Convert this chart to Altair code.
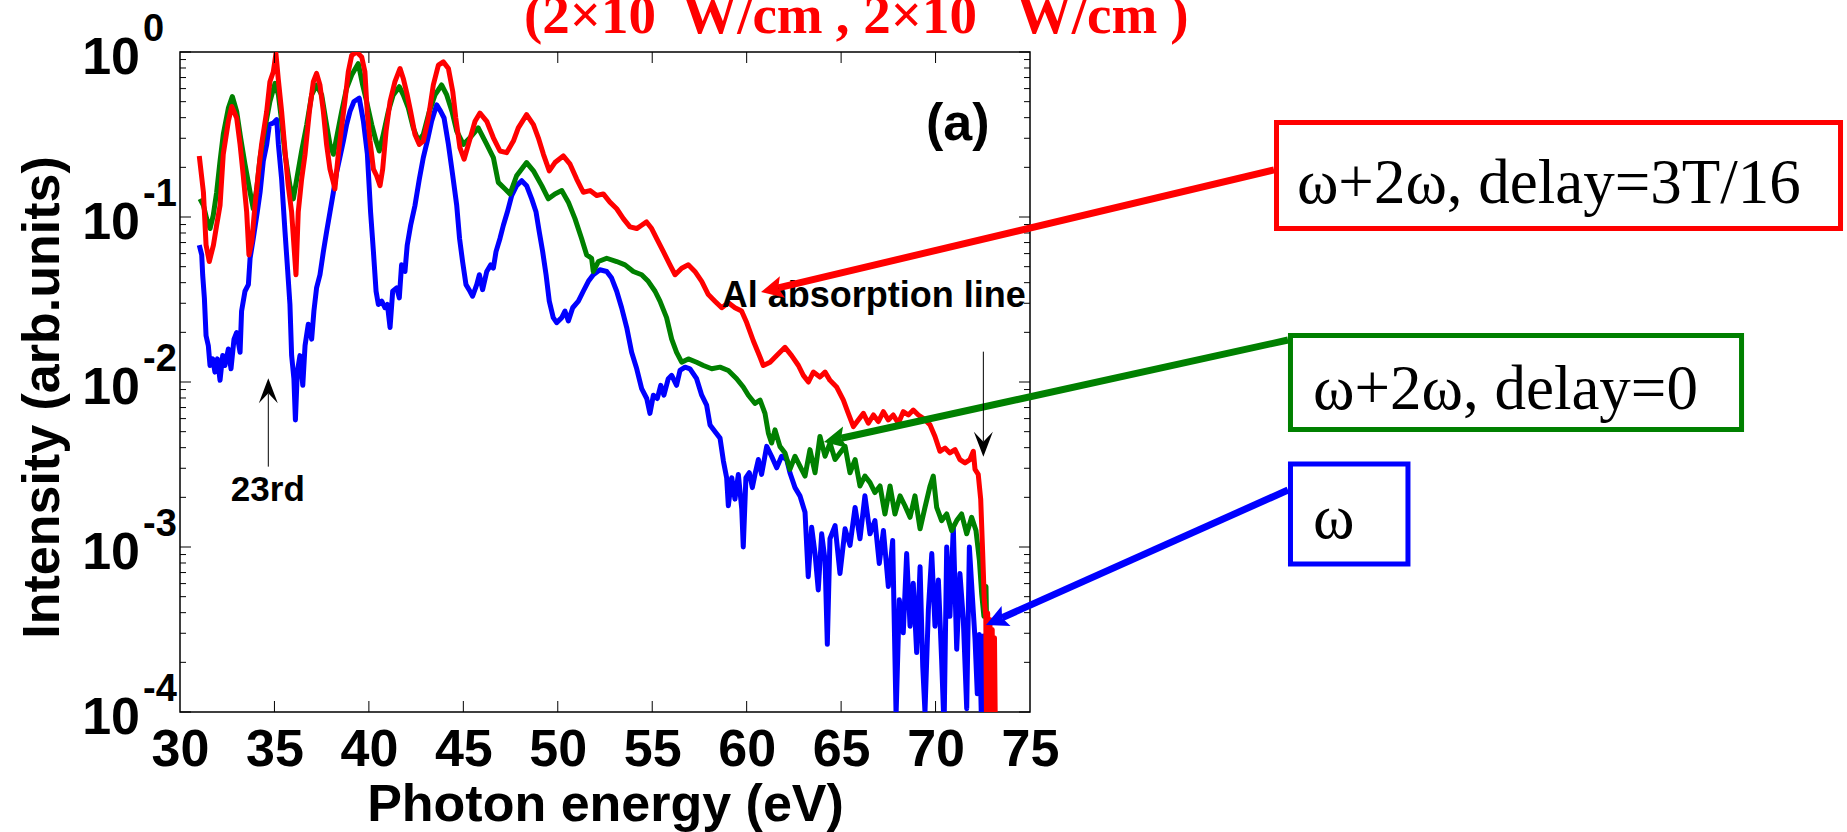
import math
import altair as alt
import numpy as np
import pandas as pd

# ---------------------------------------------------------------------------
# Harmonic spectra: (photon energy in eV, log10 of intensity in arb. units)
# ---------------------------------------------------------------------------
red_pts = [
    (31.02, -0.63), (31.24, -0.85), (31.38, -1.17), (31.55, -1.27), (31.77, -1.17),
    (31.94, -1.05), (32.12, -0.93), (32.29, -0.62), (32.56, -0.42), (32.74, -0.33),
    (33.00, -0.40), (33.18, -0.56), (33.35, -0.75), (33.53, -0.97), (33.65, -1.23),
    (33.80, -1.15), (33.97, -0.93), (34.15, -0.73), (34.32, -0.56), (34.59, -0.36),
    (34.76, -0.18), (34.94, -0.12), (35.08, -0.01), (35.20, -0.16), (35.38, -0.36),
    (35.56, -0.60), (35.73, -0.81), (35.91, -0.97), (36.03, -1.17), (36.14, -1.35),
    (36.26, -0.97), (36.44, -0.77), (36.62, -0.62), (36.85, -0.36), (37.06, -0.18),
    (37.23, -0.13), (37.41, -0.20), (37.59, -0.36), (37.76, -0.56), (37.94, -0.71),
    (38.12, -0.79), (38.20, -0.83), (38.38, -0.62), (38.55, -0.46), (38.73, -0.30),
    (38.91, -0.12), (39.09, -0.02), (39.35, 0.00), (39.62, -0.03), (39.79, -0.12),
    (39.91, -0.36), (40.06, -0.54), (40.24, -0.71), (40.41, -0.75), (40.59, -0.81),
    (40.73, -0.71), (40.91, -0.48), (41.12, -0.30), (41.38, -0.18), (41.65, -0.10),
    (41.82, -0.16), (42.03, -0.26), (42.21, -0.36), (42.44, -0.50), (42.67, -0.56),
    (42.88, -0.54), (43.15, -0.40), (43.41, -0.20), (43.68, -0.08), (43.94, -0.06),
    (44.21, -0.10), (44.44, -0.24), (44.60, -0.40), (44.82, -0.58), (45.04, -0.65),
    (45.27, -0.56), (45.62, -0.42), (45.88, -0.37), (46.24, -0.42), (46.59, -0.52),
    (46.94, -0.60), (47.29, -0.61), (47.65, -0.54), (47.91, -0.46), (48.35, -0.38),
    (48.71, -0.44), (48.97, -0.52), (49.24, -0.62), (49.55, -0.72), (49.85, -0.67),
    (50.29, -0.63), (50.65, -0.68), (51.00, -0.77), (51.35, -0.85), (51.71, -0.84),
    (52.06, -0.87), (52.41, -0.86), (52.76, -0.91), (53.12, -0.95), (53.47, -1.01),
    (53.82, -1.06), (54.18, -1.07), (54.44, -1.05), (54.70, -1.03), (54.97, -1.07),
    (55.23, -1.13), (55.59, -1.21), (55.94, -1.29), (56.21, -1.35), (56.56, -1.31),
    (56.91, -1.29), (57.26, -1.33), (57.62, -1.39), (57.97, -1.47), (58.32, -1.51),
    (58.68, -1.55), (59.03, -1.52), (59.38, -1.55), (59.73, -1.57), (60.00, -1.64),
    (60.35, -1.75), (60.71, -1.85), (60.88, -1.90), (61.24, -1.88), (61.59, -1.84),
    (62.03, -1.79), (62.38, -1.84), (62.74, -1.90), (63.00, -1.96), (63.27, -2.00),
    (63.53, -1.94), (63.88, -1.97), (64.15, -1.94), (64.41, -1.99), (64.76, -2.03),
    (65.12, -2.11), (65.38, -2.19), (65.65, -2.27), (65.91, -2.23), (66.18, -2.19),
    (66.44, -2.25), (66.71, -2.20), (66.97, -2.24), (67.24, -2.18), (67.50, -2.23),
    (67.76, -2.20), (68.03, -2.25), (68.29, -2.18), (68.56, -2.20), (68.82, -2.17),
    (69.09, -2.20), (69.35, -2.22), (69.71, -2.26), (69.97, -2.33), (70.23, -2.42),
    (70.50, -2.40), (70.76, -2.43), (71.03, -2.41), (71.29, -2.47), (71.56, -2.49),
    (71.82, -2.47), (72.00, -2.42), (72.09, -2.53), (72.26, -2.56), (72.39, -2.71),
    (72.49, -3.02), (72.58, -3.32), (72.66, -3.42), (72.71, -4.30), (72.76, -3.40),
    (72.82, -4.30), (72.88, -3.44), (72.94, -4.30), (73.00, -3.50), (73.06, -4.30),
    (73.12, -3.55), (73.18, -4.30),
]

green_pts = [
    (31.06, -0.89), (31.24, -0.93), (31.41, -1.01), (31.59, -1.07), (31.76, -0.99),
    (31.94, -0.85), (32.12, -0.66), (32.29, -0.50), (32.56, -0.34), (32.77, -0.27),
    (33.00, -0.36), (33.21, -0.52), (33.44, -0.68), (33.71, -0.85), (33.88, -0.95),
    (34.06, -0.83), (34.24, -0.64), (34.50, -0.46), (34.76, -0.30), (35.03, -0.19),
    (35.21, -0.26), (35.38, -0.42), (35.56, -0.62), (35.82, -0.81), (36.00, -0.89),
    (36.18, -0.77), (36.44, -0.60), (36.71, -0.44), (36.97, -0.26), (37.23, -0.20),
    (37.50, -0.26), (37.73, -0.42), (37.94, -0.56), (38.12, -0.62), (38.29, -0.52),
    (38.56, -0.36), (38.82, -0.22), (39.09, -0.14), (39.44, -0.07), (39.67, -0.20),
    (39.88, -0.30), (40.15, -0.44), (40.38, -0.54), (40.55, -0.60), (40.76, -0.50),
    (41.03, -0.36), (41.29, -0.26), (41.61, -0.21), (41.82, -0.26), (42.09, -0.34),
    (42.35, -0.46), (42.62, -0.54), (42.88, -0.50), (43.20, -0.36), (43.50, -0.26),
    (43.85, -0.20), (44.12, -0.26), (44.40, -0.36), (44.65, -0.48), (45.00, -0.56),
    (45.35, -0.52), (45.79, -0.46), (46.24, -0.56), (46.59, -0.64), (46.85, -0.79),
    (47.21, -0.83), (47.47, -0.86), (47.82, -0.75), (48.35, -0.67), (48.71, -0.72),
    (49.15, -0.81), (49.50, -0.89), (49.85, -0.86), (50.21, -0.84), (50.56, -0.91),
    (50.91, -1.01), (51.26, -1.13), (51.53, -1.23), (51.79, -1.25), (51.88, -1.33),
    (52.15, -1.27), (52.59, -1.25), (53.12, -1.27), (53.56, -1.29), (54.00, -1.33),
    (54.44, -1.35), (54.79, -1.39), (55.15, -1.45), (55.41, -1.51), (55.76, -1.61),
    (56.03, -1.74), (56.29, -1.82), (56.56, -1.88), (56.91, -1.86), (57.35, -1.88),
    (57.71, -1.90), (58.15, -1.92), (58.59, -1.91), (59.03, -1.93), (59.47, -1.98),
    (59.82, -2.03), (60.09, -2.08), (60.44, -2.13), (60.71, -2.11), (60.97, -2.19),
    (61.15, -2.31), (61.32, -2.37), (61.50, -2.29), (61.76, -2.39), (62.03, -2.43),
    (62.29, -2.53), (62.56, -2.45), (62.82, -2.51), (63.09, -2.57), (63.35, -2.41),
    (63.62, -2.55), (63.88, -2.33), (64.15, -2.45), (64.41, -2.37), (64.68, -2.47),
    (64.94, -2.43), (65.21, -2.39), (65.47, -2.55), (65.74, -2.47), (66.00, -2.63),
    (66.26, -2.57), (66.53, -2.61), (66.79, -2.67), (67.06, -2.63), (67.32, -2.80),
    (67.59, -2.63), (67.85, -2.80), (68.12, -2.69), (68.38, -2.75), (68.65, -2.82),
    (68.91, -2.69), (69.18, -2.89), (69.44, -2.76), (69.71, -2.63), (69.88, -2.57),
    (70.06, -2.76), (70.32, -2.84), (70.59, -2.80), (70.85, -2.90), (71.12, -2.84),
    (71.38, -2.80), (71.65, -2.92), (71.91, -2.82), (72.14, -2.90), (72.32, -3.08),
    (72.44, -3.28), (72.56, -3.42), (72.67, -3.24), (72.74, -3.73), (72.80, -4.30),
    (72.86, -3.60), (72.92, -4.30),
]

blue_pts = [
    (31.02, -1.17), (31.15, -1.23), (31.20, -1.35), (31.29, -1.49), (31.38, -1.72),
    (31.50, -1.78), (31.59, -1.90), (31.73, -1.86), (31.85, -1.94), (31.98, -1.86),
    (32.12, -1.99), (32.26, -1.84), (32.38, -1.90), (32.56, -1.80), (32.70, -1.92),
    (32.86, -1.74), (33.00, -1.70), (33.18, -1.82), (33.26, -1.57), (33.44, -1.45),
    (33.62, -1.41), (33.71, -1.25), (33.88, -1.13), (34.09, -0.97), (34.24, -0.85),
    (34.41, -0.66), (34.59, -0.56), (34.73, -0.44), (34.94, -0.43), (35.12, -0.41),
    (35.21, -0.56), (35.38, -0.77), (35.56, -1.09), (35.68, -1.29), (35.82, -1.53),
    (35.91, -1.84), (36.03, -1.98), (36.11, -2.23), (36.21, -1.94), (36.35, -1.84),
    (36.50, -2.02), (36.62, -1.78), (36.79, -1.65), (36.97, -1.74), (37.09, -1.57),
    (37.23, -1.43), (37.41, -1.35), (37.59, -1.21), (37.76, -1.09), (37.94, -0.97),
    (38.12, -0.85), (38.29, -0.73), (38.50, -0.62), (38.65, -0.54), (38.82, -0.44),
    (39.00, -0.36), (39.21, -0.30), (39.49, -0.28), (39.71, -0.42), (39.92, -0.62),
    (40.09, -0.97), (40.24, -1.21), (40.38, -1.45), (40.50, -1.53), (40.68, -1.51),
    (40.85, -1.55), (40.98, -1.53), (41.12, -1.67), (41.26, -1.45), (41.47, -1.43),
    (41.61, -1.49), (41.73, -1.29), (41.91, -1.33), (42.03, -1.17), (42.21, -1.05),
    (42.44, -0.93), (42.67, -0.77), (42.88, -0.64), (43.09, -0.54), (43.32, -0.42),
    (43.59, -0.32), (43.80, -0.36), (43.98, -0.40), (44.21, -0.56), (44.44, -0.75),
    (44.65, -0.93), (44.80, -1.13), (44.96, -1.27), (45.14, -1.41), (45.35, -1.45),
    (45.49, -1.48), (45.71, -1.41), (45.85, -1.35), (46.02, -1.44), (46.24, -1.33),
    (46.45, -1.29), (46.59, -1.31), (46.73, -1.21), (46.94, -1.13), (47.12, -1.05),
    (47.33, -0.97), (47.56, -0.87), (47.82, -0.81), (48.09, -0.78), (48.35, -0.81),
    (48.62, -0.89), (48.85, -0.97), (49.02, -1.09), (49.20, -1.21), (49.38, -1.35),
    (49.55, -1.51), (49.76, -1.61), (49.94, -1.64), (50.21, -1.61), (50.38, -1.57),
    (50.56, -1.63), (50.79, -1.55), (51.09, -1.51), (51.35, -1.45), (51.62, -1.39),
    (51.88, -1.35), (52.23, -1.32), (52.59, -1.33), (52.85, -1.37), (53.12, -1.45),
    (53.38, -1.55), (53.65, -1.67), (53.91, -1.82), (54.18, -1.92), (54.44, -2.04),
    (54.71, -2.10), (54.88, -2.19), (55.06, -2.08), (55.27, -2.10), (55.45, -2.02),
    (55.62, -2.08), (55.85, -1.98), (56.03, -1.96), (56.29, -2.02), (56.47, -1.93),
    (56.74, -1.91), (57.00, -1.92), (57.35, -1.98), (57.62, -2.08), (57.88, -2.14),
    (58.06, -2.26), (58.32, -2.30), (58.59, -2.34), (58.77, -2.48), (58.94, -2.58),
    (59.03, -2.75), (59.21, -2.58), (59.38, -2.71), (59.56, -2.56), (59.74, -2.77),
    (59.82, -3.00), (59.96, -2.58), (60.14, -2.55), (60.30, -2.64), (60.44, -2.56),
    (60.62, -2.47), (60.79, -2.56), (61.06, -2.39), (61.32, -2.45), (61.59, -2.52),
    (61.85, -2.45), (62.12, -2.47), (62.29, -2.55), (62.56, -2.64), (62.82, -2.69),
    (63.09, -2.79), (63.26, -3.18), (63.44, -2.88), (63.62, -3.04), (63.79, -3.26),
    (63.97, -2.92), (64.15, -3.08), (64.27, -3.59), (64.41, -2.95), (64.68, -2.87),
    (64.94, -3.16), (65.21, -2.89), (65.47, -2.99), (65.74, -2.76), (66.00, -2.95),
    (66.26, -2.69), (66.53, -2.92), (66.79, -2.84), (67.02, -3.10), (67.24, -2.90),
    (67.50, -3.24), (67.73, -2.96), (67.91, -4.02), (68.08, -3.32), (68.29, -3.52),
    (68.47, -3.04), (68.65, -3.48), (68.82, -3.22), (69.00, -3.64), (69.18, -3.12),
    (69.32, -3.72), (69.44, -4.00), (69.62, -3.38), (69.80, -3.04), (69.97, -3.48),
    (70.15, -3.20), (70.32, -3.68), (70.45, -4.10), (70.59, -3.00), (70.76, -3.42),
    (70.94, -2.88), (71.12, -3.62), (71.29, -3.16), (71.47, -3.44), (71.65, -3.98),
    (71.79, -3.00), (71.96, -3.32), (72.09, -3.56), (72.21, -3.89), (72.32, -3.53),
    (72.44, -4.10), (72.53, -3.54), (72.60, -4.30),
]

# axis ticks and labels
x_label_vals = [30, 35, 40, 45, 50, 55, 60, 65, 70, 75]
x_tick_vals = [35, 40, 45, 50, 55, 60, 65, 70]
y_major_vals = [1e-4, 1e-3, 1e-2, 1e-1, 1.0]
y_minor_vals = [m * 10.0 ** k for k in range(-4, 0) for m in range(2, 10)]
y_label_vals = [1.0, 1e-1, 1e-2, 1e-3, 1e-4]
y_label_exps = ["0", "-1", "-2", "-3", "-4"]

# annotation anchors in data units (eV, intensity)
arrows = [
    # tail E, tail I, tip E, tip I, colour, line width, head kind
    (87.92, 0.1930, 60.76, 0.03510, "#ff0000", 7, "big"),
    (88.66, 0.01797, 64.09, 0.004328, "#008000", 7, "big"),
    (88.66, 0.002215, 72.67, 0.000337, "#0000ff", 7, "big"),
    (72.53, 0.01527, 72.53, 0.003526, "#000000", 1, "thin"),
    (34.675, 0.003069, 34.675, 0.01052, "#000000", 1, "thin"),
]
boxes = [
    # E left, E right, I top, I bottom, colour, label E, label I, text
    (88.05, 117.91, 0.3739, 0.08516, "#ff0000", 89.13, 0.1216, "ω+2ω, delay=3T/16"),
    (88.79, 112.67, 0.01913, 0.005153, "#008000", 89.98, 0.006861, "ω+2ω, delay=0"),
    (88.79, 95.01, 0.003185, 0.000788, "#0000ff", 89.98, 0.001134, "ω"),
]
# heading: (text, superscript?)
title_parts = [
    ("(2×10", False), ("14", True), ("W/cm", False), ("2", True),
    (",  2×10", False), ("13", True), ("W/cm", False), ("2", True), (")", False),
]

# ---------------------------------------------------------------------------
W, H = 850, 660
E_MIN, E_MAX = 30.0, 75.0
I_MIN, I_MAX = 1e-4, 1.0
SANS = "Liberation Sans"
SERIF = "Liberation Serif"

xs = alt.Scale(domain=[E_MIN, E_MAX], nice=False, zero=False)
ys = alt.Scale(type="log", domain=[I_MIN, I_MAX], nice=False)


def to_px(e, i):
    px = (e - E_MIN) / (E_MAX - E_MIN) * W
    py = (math.log10(I_MAX) - math.log10(i)) / (math.log10(I_MAX) - math.log10(I_MIN)) * H
    return px, py


def from_px(px, py):
    e = E_MIN + px / W * (E_MAX - E_MIN)
    lg = math.log10(I_MAX) - py / H * (math.log10(I_MAX) - math.log10(I_MIN))
    return e, 10.0 ** lg


def series_df(pts):
    e, lg = zip(*pts)
    return pd.DataFrame({"E": e, "I": np.power(10.0, lg)})


x_axis = alt.Axis(
    values=x_label_vals, labelFont=SANS, labelFontSize=52, labelFontWeight="bold",
    labelColor="black", labelPadding=12, labelFlush=False, labelOverlap=False,
    ticks=False, domain=False, grid=False,
    title="Photon energy (eV)", titleFont=SANS, titleFontSize=52, titleFontWeight="bold",
    titleColor="black", titleY=108, titleBaseline="alphabetic",
)
y_axis = alt.Axis(
    labels=False, ticks=False, domain=False, grid=False,
    title="Intensity (arb.units)", titleFont=SANS, titleFontSize=52, titleFontWeight="bold",
    titleColor="black", titleX=-122, titleY=345, titleAngle=270,
    titleAlign="center", titleBaseline="alphabetic",
)


def X(f="E"):
    return alt.X(f"{f}:Q", scale=xs, axis=x_axis)


def Y(f="I"):
    return alt.Y(f"{f}:Q", scale=ys, axis=y_axis)


layers = []

# spectra, blue underneath, red on top
for pts, col in [(blue_pts, "#0000ff"), (green_pts, "#008000"), (red_pts, "#ff0000")]:
    layers.append(alt.Chart(series_df(pts)).mark_line(
        color=col, strokeWidth=5, clip=True, strokeJoin="round").encode(x=X(), y=Y()))

# inward ticks on all four sides
xt = pd.DataFrame({"E": x_tick_vals})
for y0, y1 in [(H, H - 11), (0, 11)]:
    layers.append(alt.Chart(xt).mark_rule(color="black", strokeWidth=1).encode(
        x=X(), y=alt.value(y0), y2=alt.value(y1)))
for vals, length in [(y_major_vals, 11), (y_minor_vals, 6)]:
    yt = pd.DataFrame({"I": vals})
    for x0, x1 in [(0, length), (W, W - length)]:
        layers.append(alt.Chart(yt).mark_rule(color="black", strokeWidth=1).encode(
            y=Y(), x=alt.value(x0), x2=alt.value(x1)))

# log-axis labels: 10 with raised exponent
yl = pd.DataFrame({"I": y_label_vals, "base": ["10"] * len(y_label_vals), "exp": y_label_exps})
layers.append(alt.Chart(yl).mark_text(
    font=SANS, fontSize=52, fontWeight="bold", color="black", align="right",
    baseline="alphabetic", dy=22).encode(y=Y(), x=alt.value(-40), text="base:N"))
layers.append(alt.Chart(yl).mark_text(
    font=SANS, fontSize=38, fontWeight="bold", color="black", align="left",
    baseline="alphabetic", dy=-11).encode(y=Y(), x=alt.value(-37), text="exp:N"))


def label(e, i, text, size, align="left", font=SANS, weight="bold", color="black"):
    d = pd.DataFrame({"E": [e], "I": [i], "t": [text]})
    return alt.Chart(d).mark_text(
        font=font, fontSize=size, fontWeight=weight, color=color, align=align,
        baseline="alphabetic").encode(x=X(), y=Y(), text="t:N")


# in-plot labels
layers.append(label(69.49, 0.293, "(a)", 52))
layers.append(label(58.68, 0.0286, "Al absorption line", 36))
layers.append(label(34.65, 0.001909, "23rd", 35, align="center"))

# arrows
HEADS = {
    "big": ("M0,0 L-1,-0.5 L-0.8,0 L-1,0.5 Z", 22.0, 0.8),
    "thin": ("M0,0 L-1,-0.38 L-0.6,0 L-1,0.38 Z", 25.0, 0.6),
}
for te, ti, he, hi, col, lw, kind in arrows:
    path, scale, notch = HEADS[kind]
    tx, ty = to_px(te, ti)
    hx, hy = to_px(he, hi)
    dx, dy = hx - tx, hy - ty
    dist = math.hypot(dx, dy)
    ang = math.degrees(math.atan2(dy, dx)) % 360
    ex, ey = from_px(hx - dx / dist * scale * notch, hy - dy / dist * scale * notch)
    seg = pd.DataFrame({"E": [te], "I": [ti], "E2": [ex], "I2": [ey]})
    layers.append(alt.Chart(seg).mark_rule(color=col, strokeWidth=lw).encode(
        x=X(), y=Y(), x2="E2:Q", y2="I2:Q"))
    tip = pd.DataFrame({"E": [he], "I": [hi]})
    layers.append(alt.Chart(tip).mark_point(
        shape=path, filled=True, size=(2 * scale) ** 2, angle=ang, color=col,
        opacity=1, strokeWidth=0).encode(x=X(), y=Y()))

# legend boxes beside the axes
for e0, e1, i0, i1, col, le, li, text in boxes:
    b = pd.DataFrame({"E": [e0], "E2": [e1], "I": [i0], "I2": [i1]})
    layers.append(alt.Chart(b).mark_rect(fill="white", stroke=col, strokeWidth=5).encode(
        x=X(), x2="E2:Q", y=Y(), y2="I2:Q"))
    layers.append(label(le, li, text, 63, font=SERIF, weight="normal"))

# heading along the top edge, laid out piece by piece (Times-Bold advance widths)
ADV = {"(": 0.333, ")": 0.333, "2": 0.5, "×": 0.570, "1": 0.5, "0": 0.5, "3": 0.5,
       "4": 0.5, " ": 0.25, "W": 1.0, "/": 0.278, "c": 0.444, "m": 0.833, ",": 0.25}
T_SIZE, T_SUP = 55, 26
t_left, _ = to_px(48.21, 1.0)
t_base_i, t_sup_i = 1.304, 2.066
cursor = t_left
rows = []
for text, sup in title_parts:
    size = T_SUP if sup else T_SIZE
    e, _ = from_px(cursor, 0)
    rows.append({"E": e, "I": t_sup_i if sup else t_base_i, "t": text, "sup": sup})
    cursor += sum(ADV[ch] for ch in text) * size
tdf = pd.DataFrame(rows)
for sup, size in [(False, T_SIZE), (True, T_SUP)]:
    layers.append(alt.Chart(tdf[tdf["sup"] == sup]).mark_text(
        font=SERIF, fontSize=size, fontWeight="bold", color="#ff0000", align="left",
        baseline="alphabetic").encode(x=X(), y=Y(), text="t:N"))

chart = alt.layer(*layers).properties(
    width=W, height=H,
    padding={"left": 180, "top": 52, "right": 817, "bottom": 120},
    autosize=alt.AutoSizeParams(type="none"),
    background="white",
).configure_view(stroke="black", strokeWidth=1.5)

chart.save("out.html", embed_options={"renderer": "svg", "actions": False})
